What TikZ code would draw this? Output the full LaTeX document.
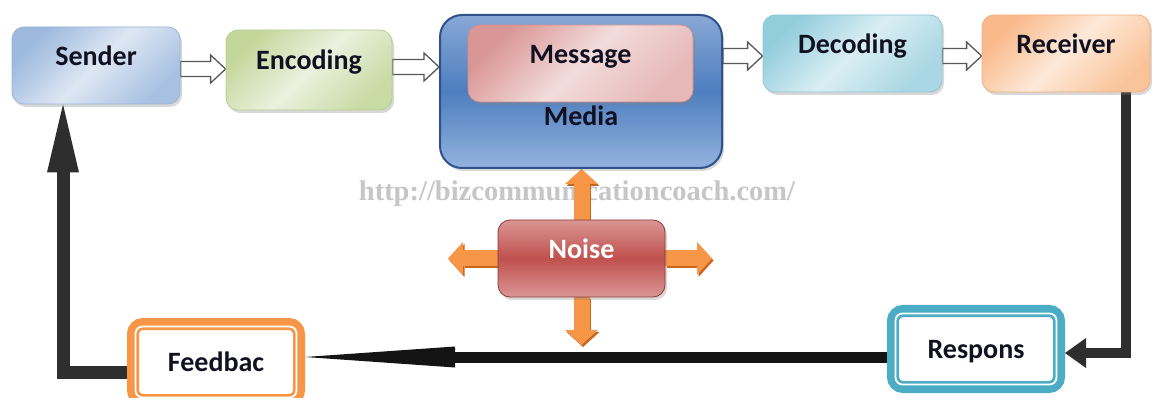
\documentclass[tikz,border=0pt]{standalone}
\usepackage{fontspec}
\setmainfont{Carlito}
\newfontfamily\wmfont{Liberation Serif}
\usetikzlibrary{arrows.meta,shadows,calc}
\definecolor{txt}{HTML}{111122}
\definecolor{sendT}{HTML}{9DB9DE}
\definecolor{sendM}{HTML}{DDE7F3}
\definecolor{sendB}{HTML}{A8C1E2}
\definecolor{sendD}{HTML}{9AB4D6}
\definecolor{encT}{HTML}{C4D79B}
\definecolor{encM}{HTML}{EBF1DE}
\definecolor{encB}{HTML}{C9DBA5}
\definecolor{encD}{HTML}{B9CD92}
\definecolor{decT}{HTML}{92CDDC}
\definecolor{decM}{HTML}{DAEEF3}
\definecolor{decB}{HTML}{A9D7E3}
\definecolor{decD}{HTML}{8FC6D6}
\definecolor{recT}{HTML}{F9B98A}
\definecolor{recM}{HTML}{FDE9D9}
\definecolor{recB}{HTML}{FAC49A}
\definecolor{recD}{HTML}{F2B07E}
\definecolor{msgT}{HTML}{D99694}
\definecolor{msgM}{HTML}{F2DCDB}
\definecolor{msgB}{HTML}{E6B9B8}
\definecolor{msgD}{HTML}{D08E8C}
\definecolor{medT}{HTML}{88A8D6}
\definecolor{medM}{HTML}{4E7EBF}
\definecolor{medB}{HTML}{93B3DE}
\definecolor{medD}{HTML}{2F528F}
\definecolor{noiT}{HTML}{D99694}
\definecolor{noiM}{HTML}{C0504D}
\definecolor{noiD}{HTML}{8C3836}
\definecolor{orA}{HTML}{F79646}
\definecolor{orD}{HTML}{C5651F}
\definecolor{respC}{HTML}{4BACC6}
\definecolor{fbC}{HTML}{F79646}
\definecolor{wmC}{HTML}{C6C6C6}
\pgfdeclarelayer{back}
\pgfdeclarelayer{conn}
\pgfsetlayers{back,conn,main}
\newcommand\hollowarr[2]{%
  \path[harrow] let \p1=(#1), \p2=(#2) in
    (\x1,{\y1+7.5pt}) -- ({\x2-15pt},{\y1+7.5pt}) -- ({\x2-15pt},{\y1+14pt})
    -- (\x2,\y1) -- ({\x2-15pt},{\y1-14pt}) -- ({\x2-15pt},{\y1-7.5pt})
    -- (\x1,{\y1-7.5pt}) -- cycle;}
\begin{document}
\begin{tikzpicture}[x=1pt,y=-1pt,
  lbl/.style={font=\bfseries\fontsize{28}{30}\selectfont, text=txt},
  tbox/.style={lbl, rounded corners=12pt, inner sep=0pt, text height=0pt, text depth=0pt,
    drop shadow={shadow xshift=2pt, shadow yshift=-3pt, opacity=0.3},
    draw=#1, line width=0.8pt},
  dbl/.style={lbl, draw=#1, line width=12pt, rounded corners=10pt, fill=white,
    minimum width=166pt, minimum height=76pt, text height=18pt, text depth=0pt, inner sep=0pt},
  harrow/.style={fill=white, draw=black!65, line width=1.3pt, line join=miter},
  blk/.style={draw=black!82, line width=#1, line join=miter},
  oarr/.style={draw=orA, line width=16pt, -{Triangle[length=15pt,width=33pt,line width=0pt]}},
  oshad/.style={draw=orD, line width=16pt, -{Triangle[length=15pt,width=33pt,line width=0pt]}}
]
\useasboundingbox (0,0) rectangle (1152,398);
\begin{pgfonlayer}{back}
\fill[white] (0,0) rectangle (1152,398);
\end{pgfonlayer}

% boxes
\node[tbox=sendD, minimum width=168pt, minimum height=77pt,
  top color=sendT, bottom color=sendB, middle color=sendM, shading angle=45] (sender) at (96,65.5) {Sender};
\node[tbox=encD, minimum width=166pt, minimum height=80pt,
  top color=encT, bottom color=encB, middle color=encM, shading angle=45] (encoding) at (309,70) {Encoding};
\node[tbox=medD, line width=2pt, rounded corners=22pt, minimum width=282pt, minimum height=153pt,
  top color=medT, bottom color=medB, middle color=medM] (media) at (581,91.5) {\raisebox{-34.5pt}[0pt][0pt]{Media}};
\node[tbox=msgD, minimum width=225pt, minimum height=77pt,
  top color=msgT, bottom color=msgB, middle color=msgM, shading angle=45] (message) at (580.5,63.5) {Message};
\node[tbox=decD, minimum width=179pt, minimum height=77pt,
  top color=decT, bottom color=decB, middle color=decM, shading angle=45] (decoding) at (852.5,53.5) {Decoding};
\node[tbox=recD, minimum width=168pt, minimum height=77pt,
  top color=recT, bottom color=recB, middle color=recM, shading angle=45] (receiver) at (1066,53.5) {Receiver};
\node[tbox=noiD, text=white, minimum width=167pt, minimum height=77pt,
  top color=noiT, bottom color=noiT, middle color=noiM] (noise) at (581.5,258.5) {Noise};
\node[dbl=respC] (resp) at (976,349) {Respons};
\draw[white, line width=1.8pt, rounded corners=7pt]
  ([shift={(8.5pt,-8.5pt)}]resp.north west) rectangle ([shift={(-8.5pt,8.5pt)}]resp.south east);
\node[dbl=fbC] (fb) at (216,362) {Feedbac};
\draw[white, line width=1.8pt, rounded corners=7pt]
  ([shift={(8.5pt,-8.5pt)}]fb.north west) rectangle ([shift={(-8.5pt,8.5pt)}]fb.south east);

\coordinate (nl) at (448,258.5);
\coordinate (nr) at (712,258.5);
\coordinate (nd) at (581.5,345);

% watermark
\begin{pgfonlayer}{back}
\node[font=\wmfont\bfseries\fontsize{28.5}{30}\selectfont, text=wmC] (wm) at (577,194) {http://bizcommunicationcoach.com/};
\end{pgfonlayer}

% connectors
\begin{pgfonlayer}{conn}
\hollowarr{sender.east |- 0,69}{encoding.west |- 0,69}
\hollowarr{encoding.east |- 0,67}{media.west |- 0,67}
\hollowarr{media.east |- 0,56}{decoding.west |- 0,56}
\hollowarr{decoding.east |- 0,56}{receiver.west |- 0,56}

\draw[blk=10pt, -{Triangle[length=21pt,width=30pt,line width=0pt]}] (receiver.south -| 1126,0) |- (resp.east |- 0,353);
\draw[blk=11pt, draw=black!92, -{Triangle[length=150pt,width=21pt,line width=0pt]}] (resp.west |- 0,357) -- (fb.east |- 0,357);
\draw[blk=13pt, -{Triangle[length=68pt,width=32pt,line width=0pt]}] (fb.west |- 0,372) -| (sender.south -| 63,0);

\begin{scope}[transform canvas={shift={(1.5pt,-2pt)}}]
\draw[oshad] (noise.north) -- (noise.north |- media.south);
\draw[oshad] (noise.west) -- (nl);
\draw[oshad] (noise.east) -- (nr);
\draw[oshad] (noise.south) -- (nd);
\end{scope}
\draw[oarr] (noise.north) -- (noise.north |- media.south);
\draw[oarr] (noise.west) -- (nl);
\draw[oarr] (noise.east) -- (nr);
\draw[oarr] (noise.south) -- (nd);
\end{pgfonlayer}
\end{tikzpicture}
\end{document}
